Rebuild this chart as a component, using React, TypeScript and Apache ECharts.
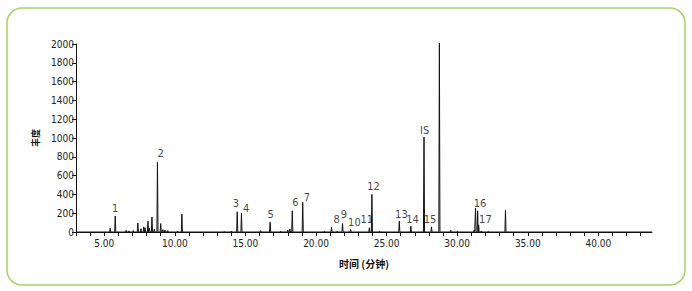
import React, { useEffect, useRef } from "react";
import * as echarts from "echarts";

// Retention times (min) and abundances of the chromatogram peaks
const peakTimes = [
  5.42, 5.78, 6.55, 6.75, 7.05, 7.38, 7.6, 7.8, 7.9, 8.1, 8.2, 8.38, 8.55, 8.77, 9.0, 9.15, 9.3, 9.5,
  10.2, 10.5, 13.5, 14.0, 14.42, 14.72, 16.08, 16.75, 17.5, 18.0, 18.15, 18.32, 19.06, 20.6, 21.1,
  21.5, 21.88, 22.45, 23.78, 23.96, 24.5, 25.9, 26.72, 27.65, 28.18, 28.74, 29.55, 30.0, 31.2, 31.3,
  31.45, 31.52, 31.7, 32.2, 33.42,
];
const peakHeights = [
  40, 170, 18, 12, 15, 95, 35, 55, 45, 115, 40, 160, 30, 740, 90, 25, 20, 15,
  10, 190, 8, 10, 215, 200, 15, 105, 10, 20, 30, 225, 315, 8, 50,
  10, 90, 28, 45, 400, 8, 115, 62, 1010, 55, 2010, 18, 8, 20, 255,
  225, 75, 10, 8, 230,
];

// Peak annotations: label text, time and abundance level where the label sits
const annotationNames = ["1", "2", "3", "4", "5", "6", "7", "8", "9", "10", "11", "12", "13", "14", "IS", "15", "16", "17"];
const annotationTimes = [5.78, 9.0, 14.33, 15.05, 16.78, 18.54, 19.36, 21.46, 21.98, 22.72, 23.6, 24.07, 26.05, 26.84, 27.69, 28.07, 31.62, 32.0];
const annotationLevels = [245, 840, 298, 245, 181, 309, 362, 128, 190, 100, 128, 479, 181, 128, 1075, 128, 298, 128];

const xMin = 3;
const xMax = 43.8;
const yTicks = [0, 200, 400, 600, 800, 1000, 1200, 1400, 1600, 1800, 2000];

const FONT = "'Liberation Sans Narrow', 'DejaVu Sans Condensed', 'Liberation Sans', sans-serif";

export default function App() {
  const ref = useRef<HTMLDivElement>(null);

  useEffect(() => {
    if (!ref.current) return;
    const chart = echarts.init(ref.current, null, { renderer: "svg" });

    const flank = 0.04;
    const trace: number[][] = [[xMin, 0]];
    peakTimes.forEach((t, i) => {
      trace.push([t - flank, 0]);
      trace.push([t, peakHeights[i]]);
      trace.push([t + flank, 0]);
    });
    trace.push([xMax, 0]);

    const labels = annotationNames.map((n, i) => ({
      name: n,
      value: [annotationTimes[i], annotationLevels[i]],
    }));

    chart.setOption({
      animation: false,
      backgroundColor: "#ffffff",
      graphic: [
        {
          type: "rect",
          shape: { x: 7, y: 8, width: 678, height: 277, r: 15 },
          style: { fill: "none", stroke: "#a8d263", lineWidth: 1.5 },
          silent: true,
        },
      ],
      grid: { left: 76, right: 40, top: 44, bottom: 59 },
      xAxis: {
        type: "value",
        min: xMin,
        max: xMax,
        interval: 1,
        name: "时间 (分钟)",
        nameLocation: "middle",
        nameGap: 26,
        nameTextStyle: { fontSize: 10, color: "#111", fontFamily: "'Noto Sans CJK SC', sans-serif", fontWeight: "bold" },
        axisLine: { show: true, lineStyle: { color: "#111", width: 1 } },
        axisTick: { show: true, length: 4, lineStyle: { color: "#111" } },
        axisLabel: {
          fontSize: 10,
          color: "#222",
          fontFamily: FONT,
          margin: 6,
          showMaxLabel: false,
          formatter: (v: number) => (Math.abs(v % 5) < 1e-6 ? v.toFixed(2) : ""),
        },
        splitLine: { show: false },
      },
      yAxis: {
        type: "value",
        min: yTicks[0],
        max: yTicks[yTicks.length - 1],
        interval: 200,
        name: "丰度",
        nameLocation: "middle",
        nameGap: 32,
        nameRotate: 90,
        nameTextStyle: { fontSize: 9, color: "#111", fontFamily: "'Noto Sans CJK SC', sans-serif", fontWeight: "bold" },
        axisLine: { show: true, lineStyle: { color: "#111", width: 1 } },
        axisTick: { show: true, length: 4, lineStyle: { color: "#111" } },
        axisLabel: {
          fontSize: 10,
          color: "#222",
          fontFamily: FONT,
          margin: 2,
          formatter: (v: number) => String(v),
        },
        splitLine: { show: false },
      },
      series: [
        {
          type: "line",
          data: trace,
          showSymbol: false,
          symbol: "none",
          lineStyle: { color: "#111", width: 1 },
          clip: false,
          z: 2,
        },
        {
          type: "scatter",
          data: labels,
          symbolSize: 0,
          silent: true,
          itemStyle: { color: "#111" },
          label: {
            show: true,
            position: [0, 0],
            align: "center",
            verticalAlign: "middle",
            formatter: "{b}",
            fontSize: 11,
            color: "#111",
            textBorderWidth: 0,
            fontFamily: FONT,
          },
          z: 3,
        },
      ],
    });

    return () => chart.dispose();
  }, []);

  return (
    <div
      ref={ref}
      style={{ position: "fixed", left: 0, top: 0, width: 692, height: 291, background: "#fff" }}
    />
  );
}
